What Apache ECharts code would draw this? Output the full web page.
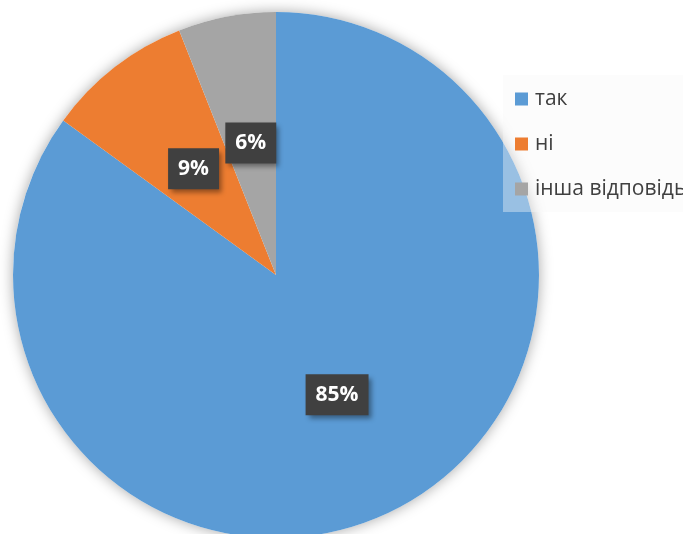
<!DOCTYPE html>
<html><head><meta charset="utf-8">
<script src="https://cdn.jsdelivr.net/npm/echarts@6/dist/echarts.min.js"></script>
<style>html,body{margin:0;padding:0;background:#fff}#c{width:683px;height:534px}</style>
</head><body><div id="c"></div>
<script>
const categories = ['так', 'ні', 'інша відповідь'];
const values = [85, 9, 6];
const colors = ['#5b9bd5', '#ed7d31', '#a5a5a5'];

const chart = echarts.init(document.getElementById('c'), null, {renderer: 'canvas'});
chart.setOption({
  backgroundColor: '#ffffff',
  animation: false,
  color: colors,
  legend: {
    orient: 'vertical',
    left: 503, top: 75,
    padding: [12, 40, 11, 12],
    backgroundColor: 'rgba(248,248,248,0.4)',
    itemGap: 21,
    itemWidth: 13, itemHeight: 13,
    icon: 'rect',
    data: categories,
    textStyle: {fontFamily: 'Open Sans', fontSize: 21, lineHeight: 24, color: '#404040', padding: [0,0,0,2]}
  },
  series: [
    {
      type: 'pie', silent: true, center: [276, 275], radius: 263,
      label: {show: false}, labelLine: {show: false}, z: 1,
      itemStyle: {color: '#ffffff', shadowBlur: 14, shadowColor: 'rgba(0,0,0,0.35)'},
      data: [{value: 1, name: '_bg'}], legendHoverLink: false
    },
    {
      type: 'pie', center: [276, 275], radius: 263, startAngle: 90, clockwise: true, z: 2,
      itemStyle: {borderWidth: 0},
      label: {
        show: true, position: 'inside',
        formatter: p => p.value + '%',
        color: '#ffffff', fontFamily: 'Open Sans', fontWeight: 'bold', fontSize: 21, lineHeight: 22,
        backgroundColor: '#404040', padding: [10, 10, 9, 10],
        shadowBlur: 5, shadowOffsetX: 3, shadowOffsetY: 4, shadowColor: 'rgba(0,0,0,0.4)'
      },
      labelLine: {show: false},
      data: categories.map((c, i) => ({name: c, value: values[i]}))
    }
  ]
});
</script></body></html>
